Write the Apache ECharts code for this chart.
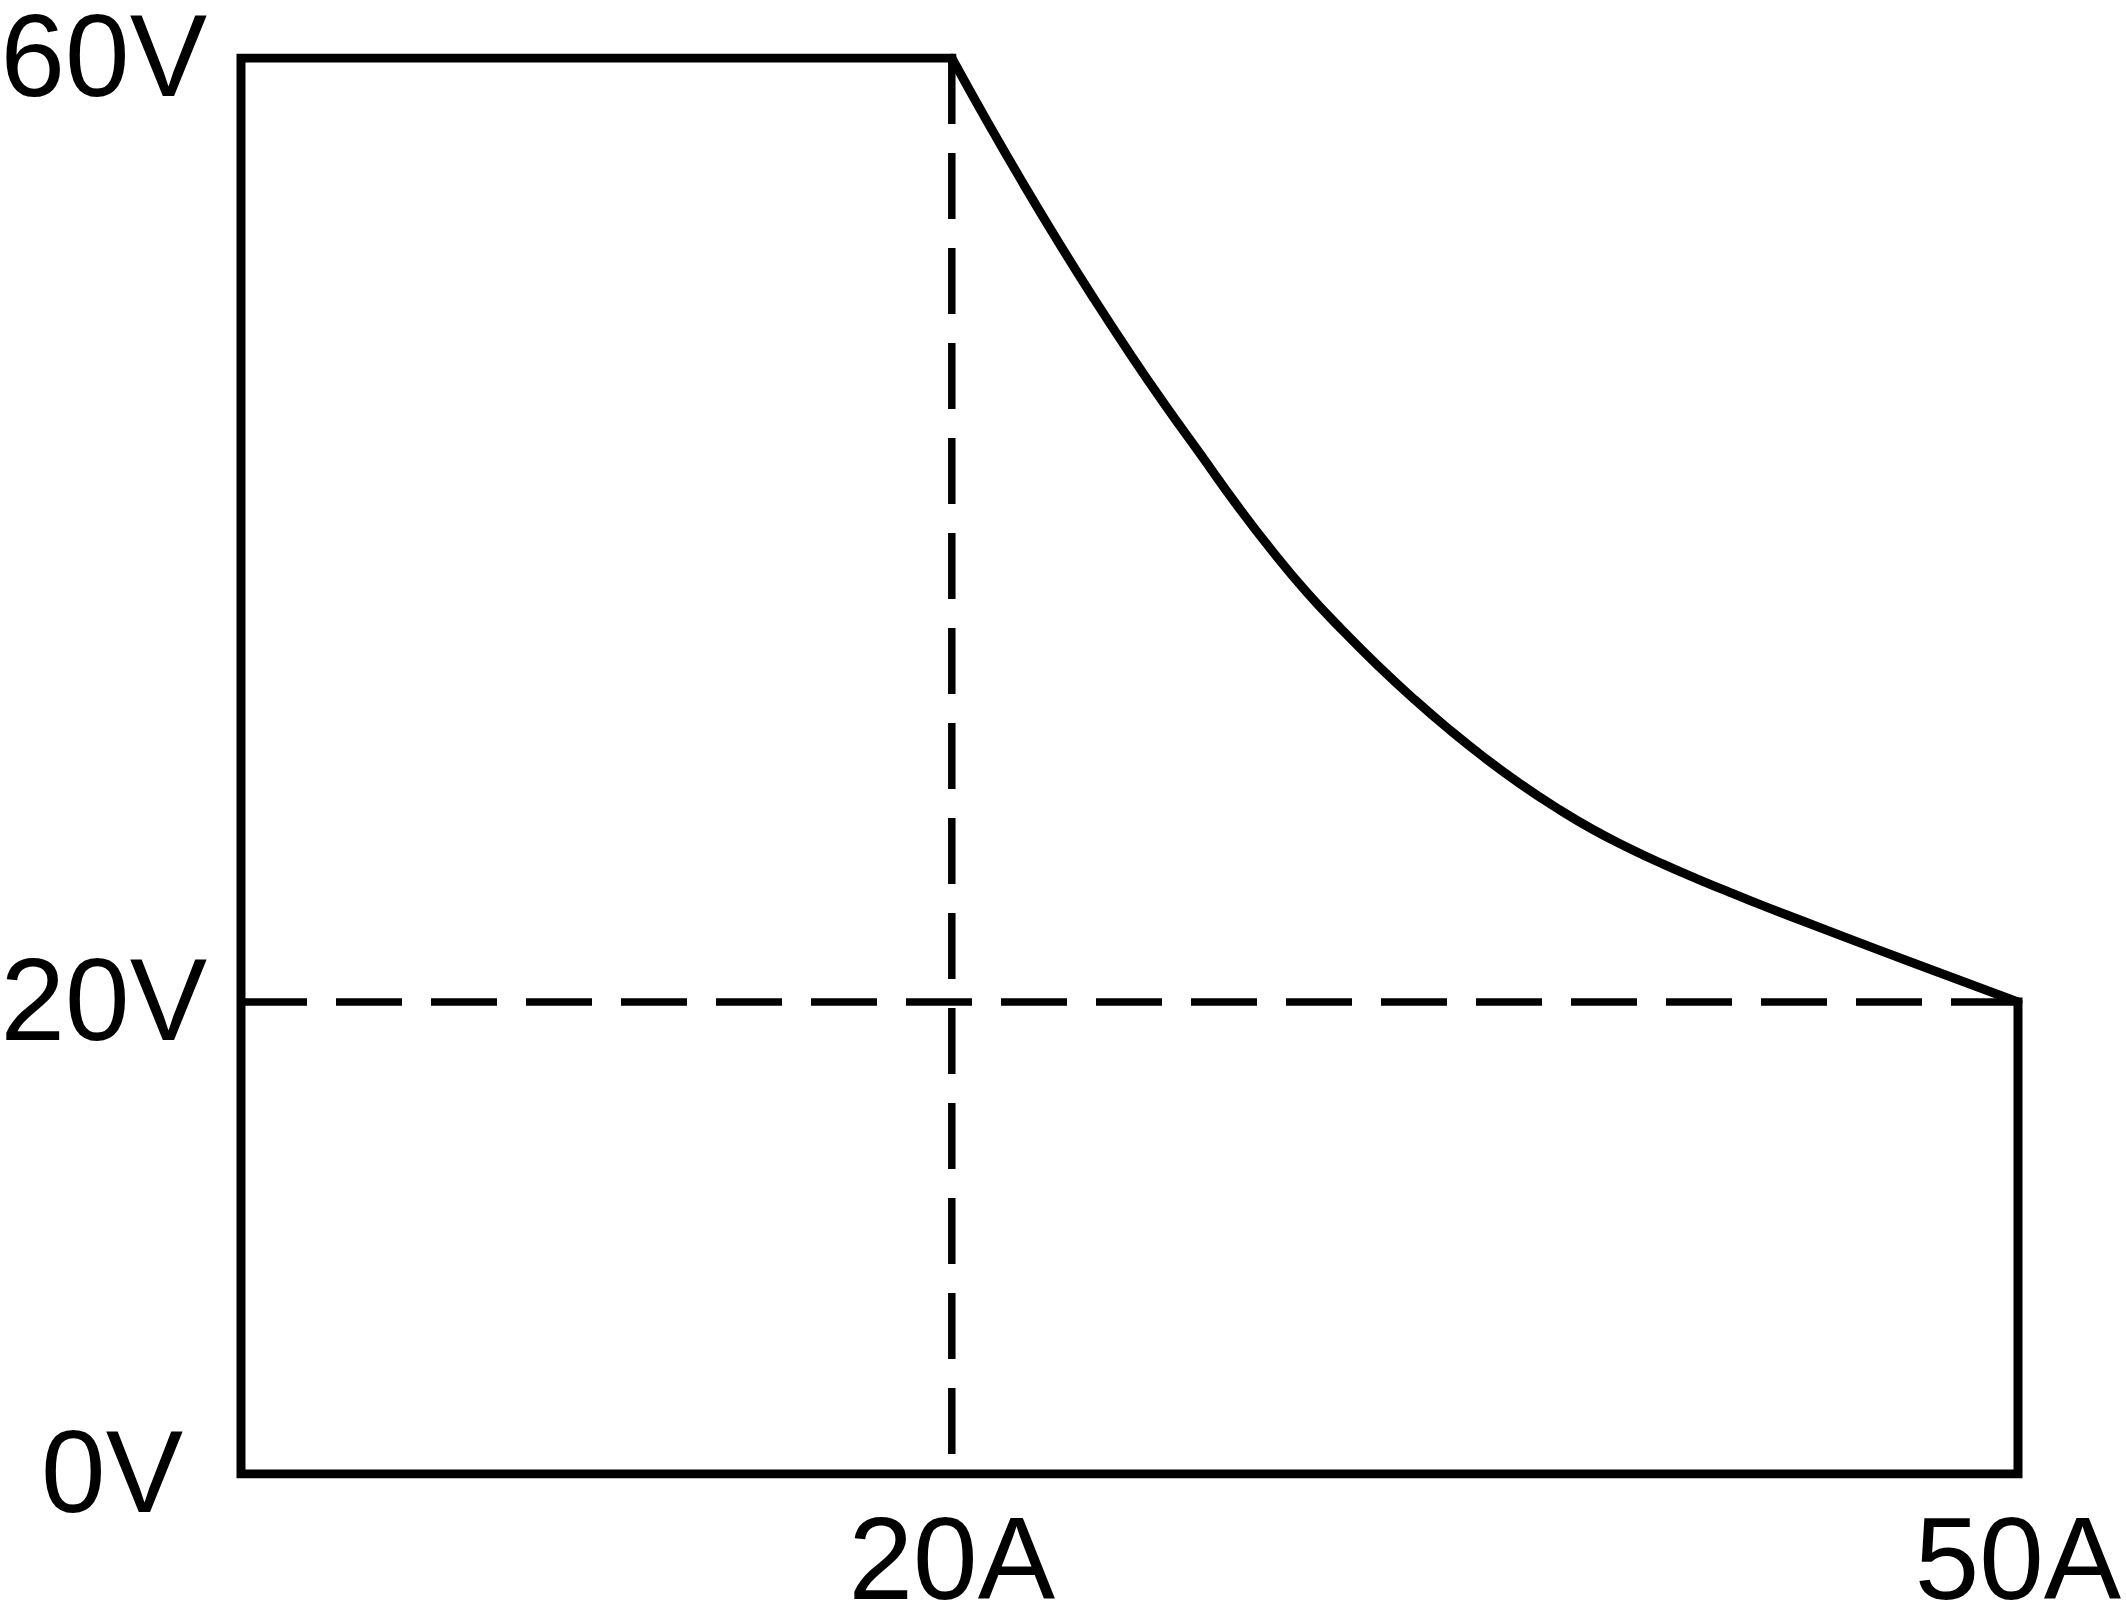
<!DOCTYPE html>
<html>
<head>
<meta charset="utf-8">
<script src="https://cdn.jsdelivr.net/npm/echarts@6/dist/echarts.min.js"></script>
<style>
  html, body { margin: 0; padding: 0; background: #ffffff; }
  #chart { width: 2126px; height: 1612px; }
</style>
</head>
<body>
<div id="chart"></div>
<script>
// Axis tick labels (values)
const currentTicks = [20, 50];        // A
const voltageTicks = [0, 20, 60];     // V

// Output envelope outline: rated limits
const outlineCurrent = [50, 50, 0, 0, 20];
const outlineVoltage = [20, 0, 0, 60, 60];

// Constant-power curve from (20A, 60V) to (50A, 20V)
const curveCurrent = [20, 21, 22, 23, 24, 25, 26, 27, 28, 29, 30, 31, 32, 33, 34, 35, 36, 37, 38, 39, 40, 41, 42, 43, 44, 46, 48, 50];
const curveVoltage = [60, 57.3, 54.7, 52.2, 49.8, 47.5, 45.3, 43.2, 41.1, 39.14, 37.34, 35.74, 34.24, 32.84, 31.54, 30.34, 29.24, 28.24, 27.34, 26.56, 25.85, 25.2, 24.58, 23.98, 23.4, 22.25, 21.12, 20];

// Dashed reference lines
const refVoltage = 20;   // horizontal at 20V
const refCurrent = 20;   // vertical at 20A
const currentMax = 50;
const voltageMax = 60;

const zip = (a, b) => a.map((v, i) => [v, b[i]]);

const font = '"Liberation Sans", Arial, Helvetica, sans-serif';
const chart = echarts.init(document.getElementById('chart'), null, { renderer: 'canvas' });

chart.setOption({
  animation: false,
  backgroundColor: '#ffffff',
  grid: { left: 241, right: 108, top: 58, bottom: 138, containLabel: false, outerBoundsMode: 'none' },
  xAxis: {
    type: 'value', min: 0, max: currentMax,
    axisLine: { show: false }, axisTick: { show: false }, splitLine: { show: false },
    axisLabel: {
      customValues: currentTicks,
      formatter: v => v + 'A',
      fontFamily: font, fontSize: 116, color: '#000000',
      margin: 35, verticalAlign: 'top'
    }
  },
  yAxis: {
    type: 'value', min: 0, max: voltageMax,
    axisLine: { show: false }, axisTick: { show: false }, splitLine: { show: false },
    axisLabel: {
      customValues: voltageTicks,
      formatter: v => v === 0 ? '{z|0V}' : '{a|' + v + 'V}',
      fontFamily: font, fontSize: 116, color: '#000000',
      margin: 34, align: 'right', verticalAlign: 'middle',
      rich: {
        a: { fontFamily: font, fontSize: 116, color: '#000000', padding: [12, 0, 0, 0] },
        z: { fontFamily: font, fontSize: 116, color: '#000000', padding: [12, 24, 0, 0] }
      }
    }
  },
  series: [
    {
      type: 'line', name: 'ref-h', symbol: 'none', silent: true,
      data: [[0, refVoltage], [currentMax, refVoltage]],
      lineStyle: { color: '#000000', width: 7.5, type: [66, 29], cap: 'butt' },
      z: 1
    },
    {
      type: 'line', name: 'ref-v', symbol: 'none', silent: true,
      data: [[refCurrent, voltageMax], [refCurrent, 0]],
      lineStyle: { color: '#000000', width: 7.5, type: [66, 29], cap: 'butt' },
      z: 1
    },
    {
      type: 'line', name: 'outline', symbol: 'none', silent: true,
      data: zip(outlineCurrent, outlineVoltage),
      lineStyle: { color: '#000000', width: 9, join: 'miter', cap: 'square' },
      z: 3
    },
    {
      type: 'line', name: 'curve', symbol: 'none', silent: true,
      smooth: 0.5,
      data: zip(curveCurrent, curveVoltage),
      lineStyle: { color: '#000000', width: 9, cap: 'round', join: 'round' },
      z: 3
    }
  ]
});
</script>
</body>
</html>
